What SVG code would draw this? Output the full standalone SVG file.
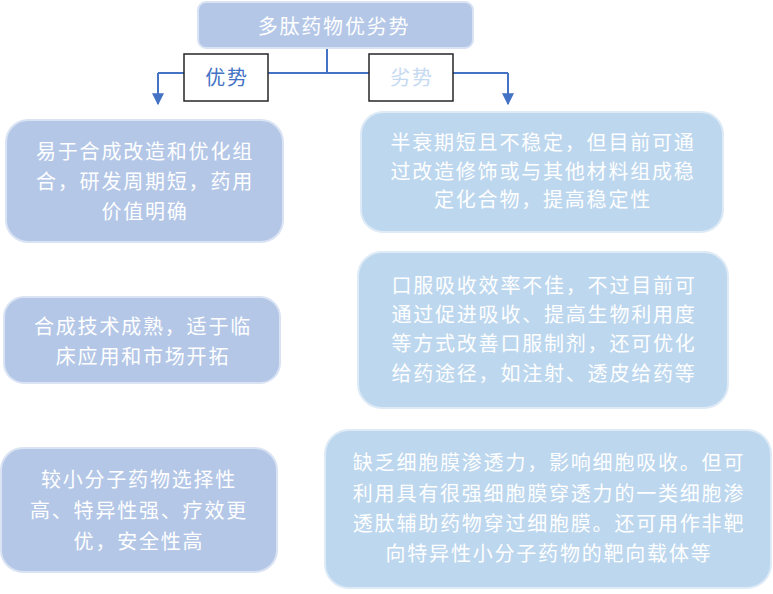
<svg xmlns="http://www.w3.org/2000/svg" width="773" height="594" viewBox="0 0 773 594">
<defs>
<style>
.l{fill:#b4c7e7;stroke:#dae3f3;stroke-width:2}
.r{fill:#bdd7ee;stroke:#deebf7;stroke-width:2}
.t{font-family:"Noto Sans CJK SC","Noto Sans",sans-serif;font-size:20px;fill:#ffffff;text-anchor:middle;letter-spacing:1.8px}
.lab{fill:#ffffff;stroke:#262626;stroke-width:1.5}
.c{fill:none;stroke:#4472c4;stroke-width:2}
</style>
<marker id="ah" viewBox="0 0 10 10" refX="9" refY="5" markerWidth="6" markerHeight="6" markerUnits="strokeWidth" orient="auto">
<path d="M0,0 L10,5 L0,10 Z" fill="#4472c4"/>
</marker>
</defs>
<rect width="773" height="594" fill="#ffffff"/>
<g id="connectors">
<path class="c" d="M327,48 V73"/>
<path class="c" d="M158,73 H508"/>
<path class="c" d="M158,73 V104" marker-end="url(#ah)"/>
<path class="c" d="M508,73 V104" marker-end="url(#ah)"/>
</g>
<g id="title">
<rect class="l" x="198" y="2" width="275" height="46" rx="8"/>
<text class="t" x="334" y="34">多肽药物优劣势</text>
</g>
<g id="label-adv">
<rect class="lab" x="184" y="54" width="84" height="47"/>
<text class="t" x="227" y="85" style="fill:#4472c4">优势</text>
</g>
<g id="label-disadv">
<rect class="lab" x="369" y="54" width="84" height="47"/>
<text class="t" x="412" y="85" style="fill:#c5d9f1">劣势</text>
</g>
<g id="adv1">
<rect class="l" x="6" y="120" width="277" height="122" rx="22"/>
<text class="t" x="145" y="159">易于合成改造和优化组</text>
<text class="t" x="145" y="189">合，研发周期短，药用</text>
<text class="t" x="145" y="219">价值明确</text>
</g>
<g id="adv2">
<rect class="l" x="4" y="297" width="276" height="86" rx="20"/>
<text class="t" x="143" y="334">合成技术成熟，适于临</text>
<text class="t" x="143" y="364">床应用和市场开拓</text>
</g>
<g id="adv3">
<rect class="l" x="1" y="448" width="276" height="124" rx="22"/>
<text class="t" x="139" y="487">较小分子药物选择性</text>
<text class="t" x="139" y="518">高、特异性强、疗效更</text>
<text class="t" x="139" y="549">优，安全性高</text>
</g>
<g id="dis1">
<rect class="r" x="361" y="112" width="362" height="120" rx="22"/>
<text class="t" x="543" y="150">半衰期短且不稳定，但目前可通</text>
<text class="t" x="543" y="179">过改造修饰或与其他材料组成稳</text>
<text class="t" x="543" y="207">定化合物，提高稳定性</text>
</g>
<g id="dis2">
<rect class="r" x="358" y="252" width="370" height="156" rx="24"/>
<text class="t" x="544" y="293">口服吸收效率不佳，不过目前可</text>
<text class="t" x="544" y="322">通过促进吸收、提高生物利用度</text>
<text class="t" x="544" y="351">等方式改善口服制剂，还可优化</text>
<text class="t" x="544" y="381">给药途径，如注射、透皮给药等</text>
</g>
<g id="dis3">
<rect class="r" x="325" y="430" width="446" height="158" rx="24"/>
<text class="t" x="549" y="470">缺乏细胞膜渗透力，影响细胞吸收。但可</text>
<text class="t" x="549" y="501">利用具有很强细胞膜穿透力的一类细胞渗</text>
<text class="t" x="549" y="531">透肽辅助药物穿过细胞膜。还可用作非靶</text>
<text class="t" x="549" y="561">向特异性小分子药物的靶向载体等</text>
</g>
</svg>
